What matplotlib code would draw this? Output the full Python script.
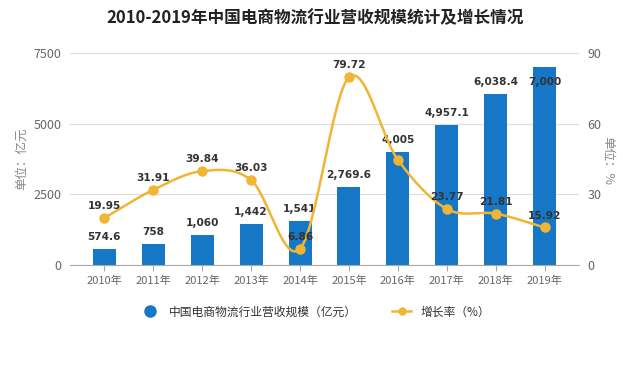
import matplotlib
matplotlib.use('Agg')
import matplotlib.pyplot as plt
import numpy as np
from matplotlib.lines import Line2D

plt.rcParams['font.family'] = ['Noto Sans CJK SC', 'DejaVu Sans']

years = ['2010年', '2011年', '2012年', '2013年', '2014年',
         '2015年', '2016年', '2017年', '2018年', '2019年']
revenue = [574.6, 758, 1060, 1442, 1541, 2769.6, 4005, 4957.1, 6038.4, 7000]
revenue_labels = ['574.6', '758', '1,060', '1,442', '1,541',
                  '2,769.6', '4,005', '4,957.1', '6,038.4', '7,000']
growth = [19.95, 31.91, 39.84, 36.03, 6.86, 79.72, 44.6, 23.77, 21.81, 15.92]
growth_labels = ['19.95', '31.91', '39.84', '36.03', '6.86',
                 '79.72', '', '23.77', '21.81', '15.92']

bar_color = '#1677c7'
line_color = '#f0b533'
grid_color = '#dddddd'
tick_color = '#666666'

fig = plt.figure(figsize=(6.31, 3.66), dpi=100)
ax = fig.add_axes([70 / 631, 101 / 366, 509 / 631, 212 / 366])
ax2 = ax.twinx()

x = np.arange(len(years))
ax.bar(x, revenue, width=0.47, color=bar_color, zorder=2)
ax.set_xlim(-0.7, 9.7)
ax.set_ylim(0, 7500)
ax.set_yticks([0, 2500, 5000, 7500])
ax.grid(axis='y', color=grid_color, linewidth=0.8, zorder=0)
ax.set_axisbelow(True)
for s in ['top', 'right', 'left']:
    ax.spines[s].set_visible(False)
ax.spines['bottom'].set_color('#aaaaaa')
ax.set_xticks(x)
ax.set_xticklabels(years)
ax.tick_params(axis='x', colors='#aaaaaa', length=4, labelcolor=tick_color, labelsize=8)
ax.tick_params(axis='y', length=0, labelcolor=tick_color, labelsize=9, pad=6)
ax.set_ylabel('单位：亿元', color='#888888', fontsize=9, labelpad=4)

# smooth curve through the growth points (Catmull-Rom)
def catmull(xs, ys, n=30):
    xs = np.asarray(xs, float)
    ys = np.asarray(ys, float)
    px = np.concatenate([[2 * xs[0] - xs[1]], xs, [2 * xs[-1] - xs[-2]]])
    py = np.concatenate([[2 * ys[0] - ys[1]], ys, [2 * ys[-1] - ys[-2]]])
    outx, outy = [], []
    t = np.linspace(0, 1, n)
    for i in range(1, len(px) - 2):
        for p, o in ((px, outx), (py, outy)):
            p0, p1, p2, p3 = p[i - 1], p[i], p[i + 1], p[i + 2]
            o.extend(0.5 * ((2 * p1) + (-p0 + p2) * t
                            + (2 * p0 - 5 * p1 + 4 * p2 - p3) * t ** 2
                            + (-p0 + 3 * p1 - 3 * p2 + p3) * t ** 3))
    return np.array(outx), np.array(outy)

sx, sy = catmull(x, growth)
ax2.plot(sx, sy, color=line_color, linewidth=1.8, zorder=3)
ax2.plot(x, growth, 'o', color=line_color, markersize=6.5, zorder=4)
ax2.set_ylim(0, 90)
ax2.set_yticks([0, 30, 60, 90])
for s in ['top', 'right', 'left', 'bottom']:
    ax2.spines[s].set_visible(False)
ax2.tick_params(axis='y', length=0, labelcolor=tick_color, labelsize=9, pad=6)
fig.text(608 / 631, 1 - 160 / 366, '单位：%', color='#888888', fontsize=9,
         rotation=-90, ha='center', va='center')

lab_kw = dict(ha='center', va='bottom', fontsize=7.6, fontweight='bold',
              color='#333333', family=['DejaVu Sans'])
for i, (v, t) in enumerate(zip(revenue, revenue_labels)):
    if i == 9:
        ax.annotate(t, (i, v), xytext=(0, -14), textcoords='offset points', **lab_kw)
    else:
        ax.annotate(t, (i, v), xytext=(0, 5), textcoords='offset points', **lab_kw)
for i, (v, t) in enumerate(zip(growth, growth_labels)):
    if t:
        ax2.annotate(t, (i, v), xytext=(0, 5), textcoords='offset points', **lab_kw)

fig.suptitle('2010-2019年中国电商物流行业营收规模统计及增长情况',
             x=0.5, y=0.975, fontsize=12, fontweight='bold', color='#222222')

handles = [
    Line2D([], [], marker='o', color=bar_color, linestyle='none', markersize=8),
    Line2D([], [], marker='o', color=line_color, linewidth=1.8, markersize=5),
]
fig.legend(handles, ['中国电商物流行业营收规模（亿元）', '增长率（%）'],
           loc='center', bbox_to_anchor=(0.5, 1 - 312 / 366), ncol=2, frameon=False,
           fontsize=8.5, handlelength=1.6, columnspacing=3, labelcolor='#333333')

fig.savefig('out.png', dpi=100)
